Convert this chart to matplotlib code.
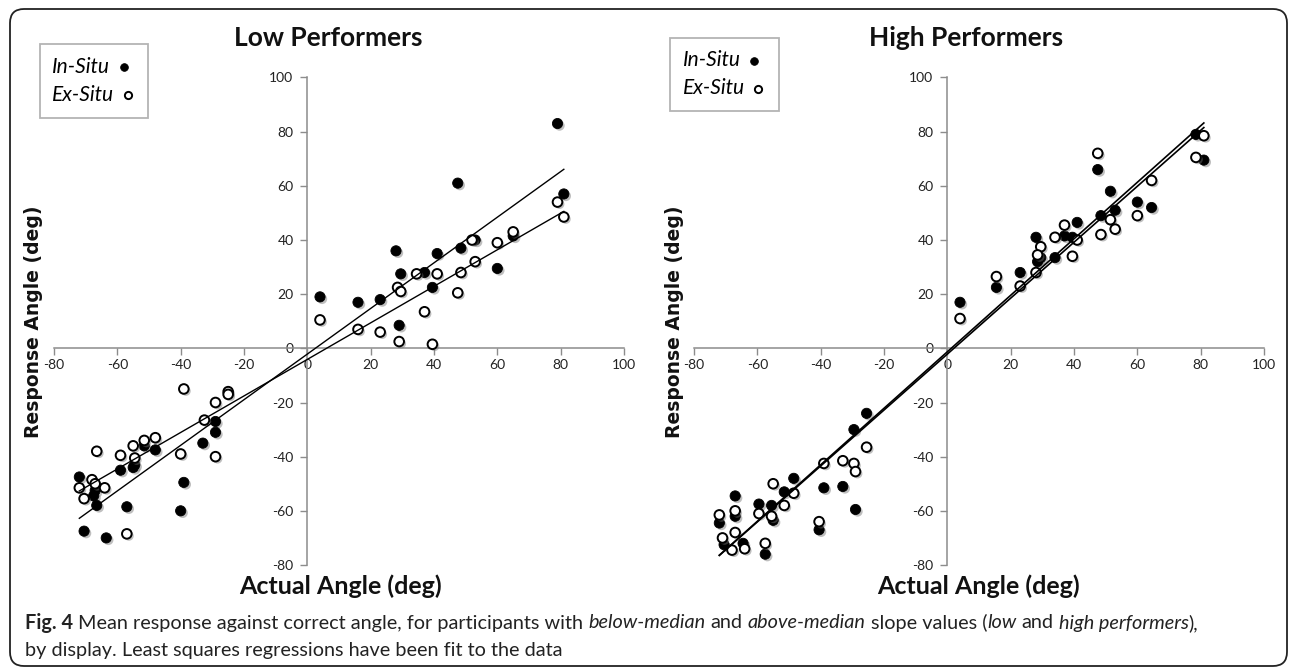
import numpy as np
import matplotlib
matplotlib.use("Agg")
import matplotlib.pyplot as plt
import matplotlib.patheffects as pe
from matplotlib import font_manager
from matplotlib.patches import FancyBboxPatch
from matplotlib.transforms import IdentityTransform


# mean response angle vs actual angle (deg)
low_in_x = [4, 16, 23, 28, 29.5, 29, 37, 39.5, 41, 48.5, 53, 60, 65, 79, 47.5, 81,
            -29, -29, -33, -39, -40, -48, -51.5, -54.5, -55, -59, -57, -63.5, -67, -67.5, -66.5, -72, -70.5]
low_in_y = [19, 17, 18, 36, 27.5, 8.5, 28, 22.5, 35, 37, 40, 29.5, 41.5, 83, 61, 57,
            -27, -31, -35, -49.5, -60, -37.5, -36, -43, -44, -45, -58.5, -70, -52.5, -54.5, -58, -47.5, -67.5]
low_ex_x = [4, 16, 23, 28.5, 29.5, 29, 34.5, 37, 39.5, 41, 47.5, 48.5, 53, 52, 60, 65, 79, 81,
            -39, -32.5, -29, -25, -25, -29, -40, -48, -51.5, -55, -54.5, -59, -57, -66.5, -64, -68, -67, -70.5, -72]
low_ex_y = [10.5, 7, 6, 22.5, 21, 2.5, 27.5, 13.5, 1.5, 27.5, 20.5, 28, 32, 40, 39, 43, 54, 48.5,
            -15, -26.5, -20, -16, -17, -40, -39, -33, -34, -36, -40.5, -39.5, -68.5, -38, -51.5, -48.5, -50, -55.5, -51.5]

high_in_x = [78.5, 81, 47.5, 51.5, 60, 64.5, 48.5, 53, 41, 28, 37, 39.5, 29.5, 28.5, 34, 23, 15.5, 4,
             -25.5, -29.5, -33, -29, -39, -40.5, -48.5, -51.5, -55.5, -55, -59.5, -57.5, -67, -67, -64.5, -70.5, -72]
high_in_y = [79, 69.5, 66, 58, 54, 52, 49, 51, 46.5, 41, 41.5, 41, 33.5, 32, 33.5, 28, 22.5, 17,
             -24, -30, -51, -59.5, -51.5, -67, -48, -53, -58, -63.5, -57.5, -76, -54.5, -62, -72, -72.5, -64.5]
high_ex_x = [81, 78.5, 47.5, 64.5, 60, 51.5, 53, 37, 34, 41, 48.5, 29.5, 28.5, 39.5, 28, 23, 15.5, 4,
             -25.5, -29.5, -29, -33, -39, -40.5, -48.5, -51.5, -55, -55.5, -59.5, -57.5, -67, -67, -64, -68, -71, -72]
high_ex_y = [78.5, 70.5, 72, 62, 49, 47.5, 44, 45.5, 41, 40, 42, 37.5, 34.5, 34, 28, 23, 26.5, 11,
             -36.5, -42.5, -45.5, -41.5, -42.5, -64, -53.5, -58, -50, -62, -61, -72, -60, -68, -74, -74.5, -70, -61.5]

ticks = list(range(-80, 101, 20))

caption_1 = [("Fig. 4", "bold", "normal"),
             (" Mean response against correct angle, for participants with ", "normal", "normal"),
             ("below-median", "normal", "italic"),
             (" and ", "normal", "normal"),
             ("above-median", "normal", "italic"),
             (" slope values (", "normal", "normal"),
             ("low", "normal", "italic"),
             (" and ", "normal", "normal"),
             ("high performers", "normal", "italic"),
             ("),", "normal", "normal")]
caption_2 = [("by display. Least squares regressions have been fit to the data", "normal", "normal")]


installed = {f.name for f in font_manager.fontManager.ttflist}
main_font = "Lato" if "Lato" in installed else "DejaVu Sans"
cap_font = "Liberation Sans Narrow" if "Liberation Sans Narrow" in installed else main_font

plt.rcParams["font.family"] = main_font
plt.rcParams["axes.unicode_minus"] = False

W, H = 1292, 668
fig = plt.figure(figsize=(W / 100, H / 100), dpi=100)

# rounded frame round the whole figure
frame = FancyBboxPatch((10, 2), 1277, 657, boxstyle="round,pad=0,rounding_size=14",
                       transform=IdentityTransform(), fill=False, ec="#222222", lw=1.3)
fig.patches.append(frame)

shadow = [pe.SimplePatchShadow(offset=(1.5, -1.5), shadow_rgbFace="0.45", alpha=0.45), pe.Normal()]


def panel(left, in_x, in_y, ex_x, ex_y, title, cx, leg_xy, lw):
    ax = fig.add_axes([left / W, 1 - 565 / H, 570 / W, 487.5 / H])
    ax.set_xlim(-80, 100)
    ax.set_ylim(-80, 100)
    ax.set_xticks(ticks)
    ax.set_yticks(ticks)
    ax.patch.set_visible(False)
    for s in ("top", "right"):
        ax.spines[s].set_visible(False)
    for s in ("left", "bottom"):
        ax.spines[s].set_position(("data", 0))
        ax.spines[s].set_color("#8c8c8c")
        ax.spines[s].set_linewidth(1.1)
    ax.tick_params(direction="out", length=5, width=1, color="#8c8c8c",
                   labelsize=10, labelcolor="#222222")
    ax.tick_params(axis="y", pad=5)
    ax.tick_params(axis="x", pad=3)

    ax.scatter(in_x, in_y, s=54, c="black", edgecolors="black", linewidths=0.6,
               zorder=3, label="In-Situ", path_effects=shadow)
    ax.scatter(ex_x, ex_y, s=48, facecolors="white", edgecolors="black", linewidths=1.4,
               zorder=4, label="Ex-Situ", path_effects=shadow)

    # least squares fits
    for x, y in ((in_x, in_y), (ex_x, ex_y)):
        k, b = np.polyfit(x, y, 1)
        xs = np.array([min(x), max(x)])
        ax.plot(xs, k * xs + b, color="black", lw=lw, zorder=5)

    leg = ax.legend(loc="upper left", bbox_to_anchor=(leg_xy[0] / W, 1 - leg_xy[1] / H),
                    bbox_transform=fig.transFigure, borderaxespad=0, markerfirst=False,
                    fancybox=False, edgecolor="#b4b4b4", framealpha=1, handlelength=0.7,
                    handletextpad=0.3, borderpad=0.62, labelspacing=0.38, markerscale=0.75,
                    prop=dict(family=main_font, style="italic", size=15))
    leg.get_frame().set_linewidth(1.3)
    for h in leg.legend_handles:
        h.set_path_effects([])
    # rows start at the left, marker right after the text
    for col in leg._legend_handle_box.get_children():
        col.align = "left"

    fig.text(cx / W, 1 - 37.5 / H, title, ha="center", va="center",
             fontsize=19, fontweight="bold", color="#111111")
    fig.text((cx + 12) / W, 1 - 586 / H, "Actual Angle (deg)", ha="center", va="center",
             fontsize=18, fontweight="bold", color="#111111")
    fig.text((left - 20) / W, 1 - 321.7 / H, "Response Angle (deg)", rotation=90,
             ha="center", va="center", fontsize=13.5, fontweight="bold",
             family="DejaVu Sans", color="#111111")
    return ax


panel(54, low_in_x, low_in_y, low_ex_x, low_ex_y, "Low Performers", 328, (39.5, 44), 1.0)
panel(694, high_in_x, high_in_y, high_ex_x, high_ex_y, "High Performers", 966, (670, 37.5), 1.2)


renderer = fig.canvas.get_renderer()


def text_width(s, **kw):
    t = fig.text(0, 0, s, **kw)
    w = t.get_window_extent(renderer).width
    t.remove()
    return w


def write_line(pieces, x0, y, size):
    base = dict(fontsize=size, family=cap_font)
    space = text_width("x x", **base) - text_width("xx", **base)
    x = x0
    for txt, weight, style in pieces:
        lead = len(txt) - len(txt.lstrip(" "))
        trail = len(txt) - len(txt.rstrip(" "))
        x += lead * space
        t = fig.text(x / W, 1 - y / H, txt.strip(), fontsize=size, family=cap_font,
                     fontweight=weight, fontstyle=style, ha="left", va="center", color="#222222")
        x += t.get_window_extent(renderer).width + trail * space


write_line(caption_1, 25, 623, 14.3)
write_line(caption_2, 25, 650.5, 14.3)

fig.savefig("out.png", dpi=100)
